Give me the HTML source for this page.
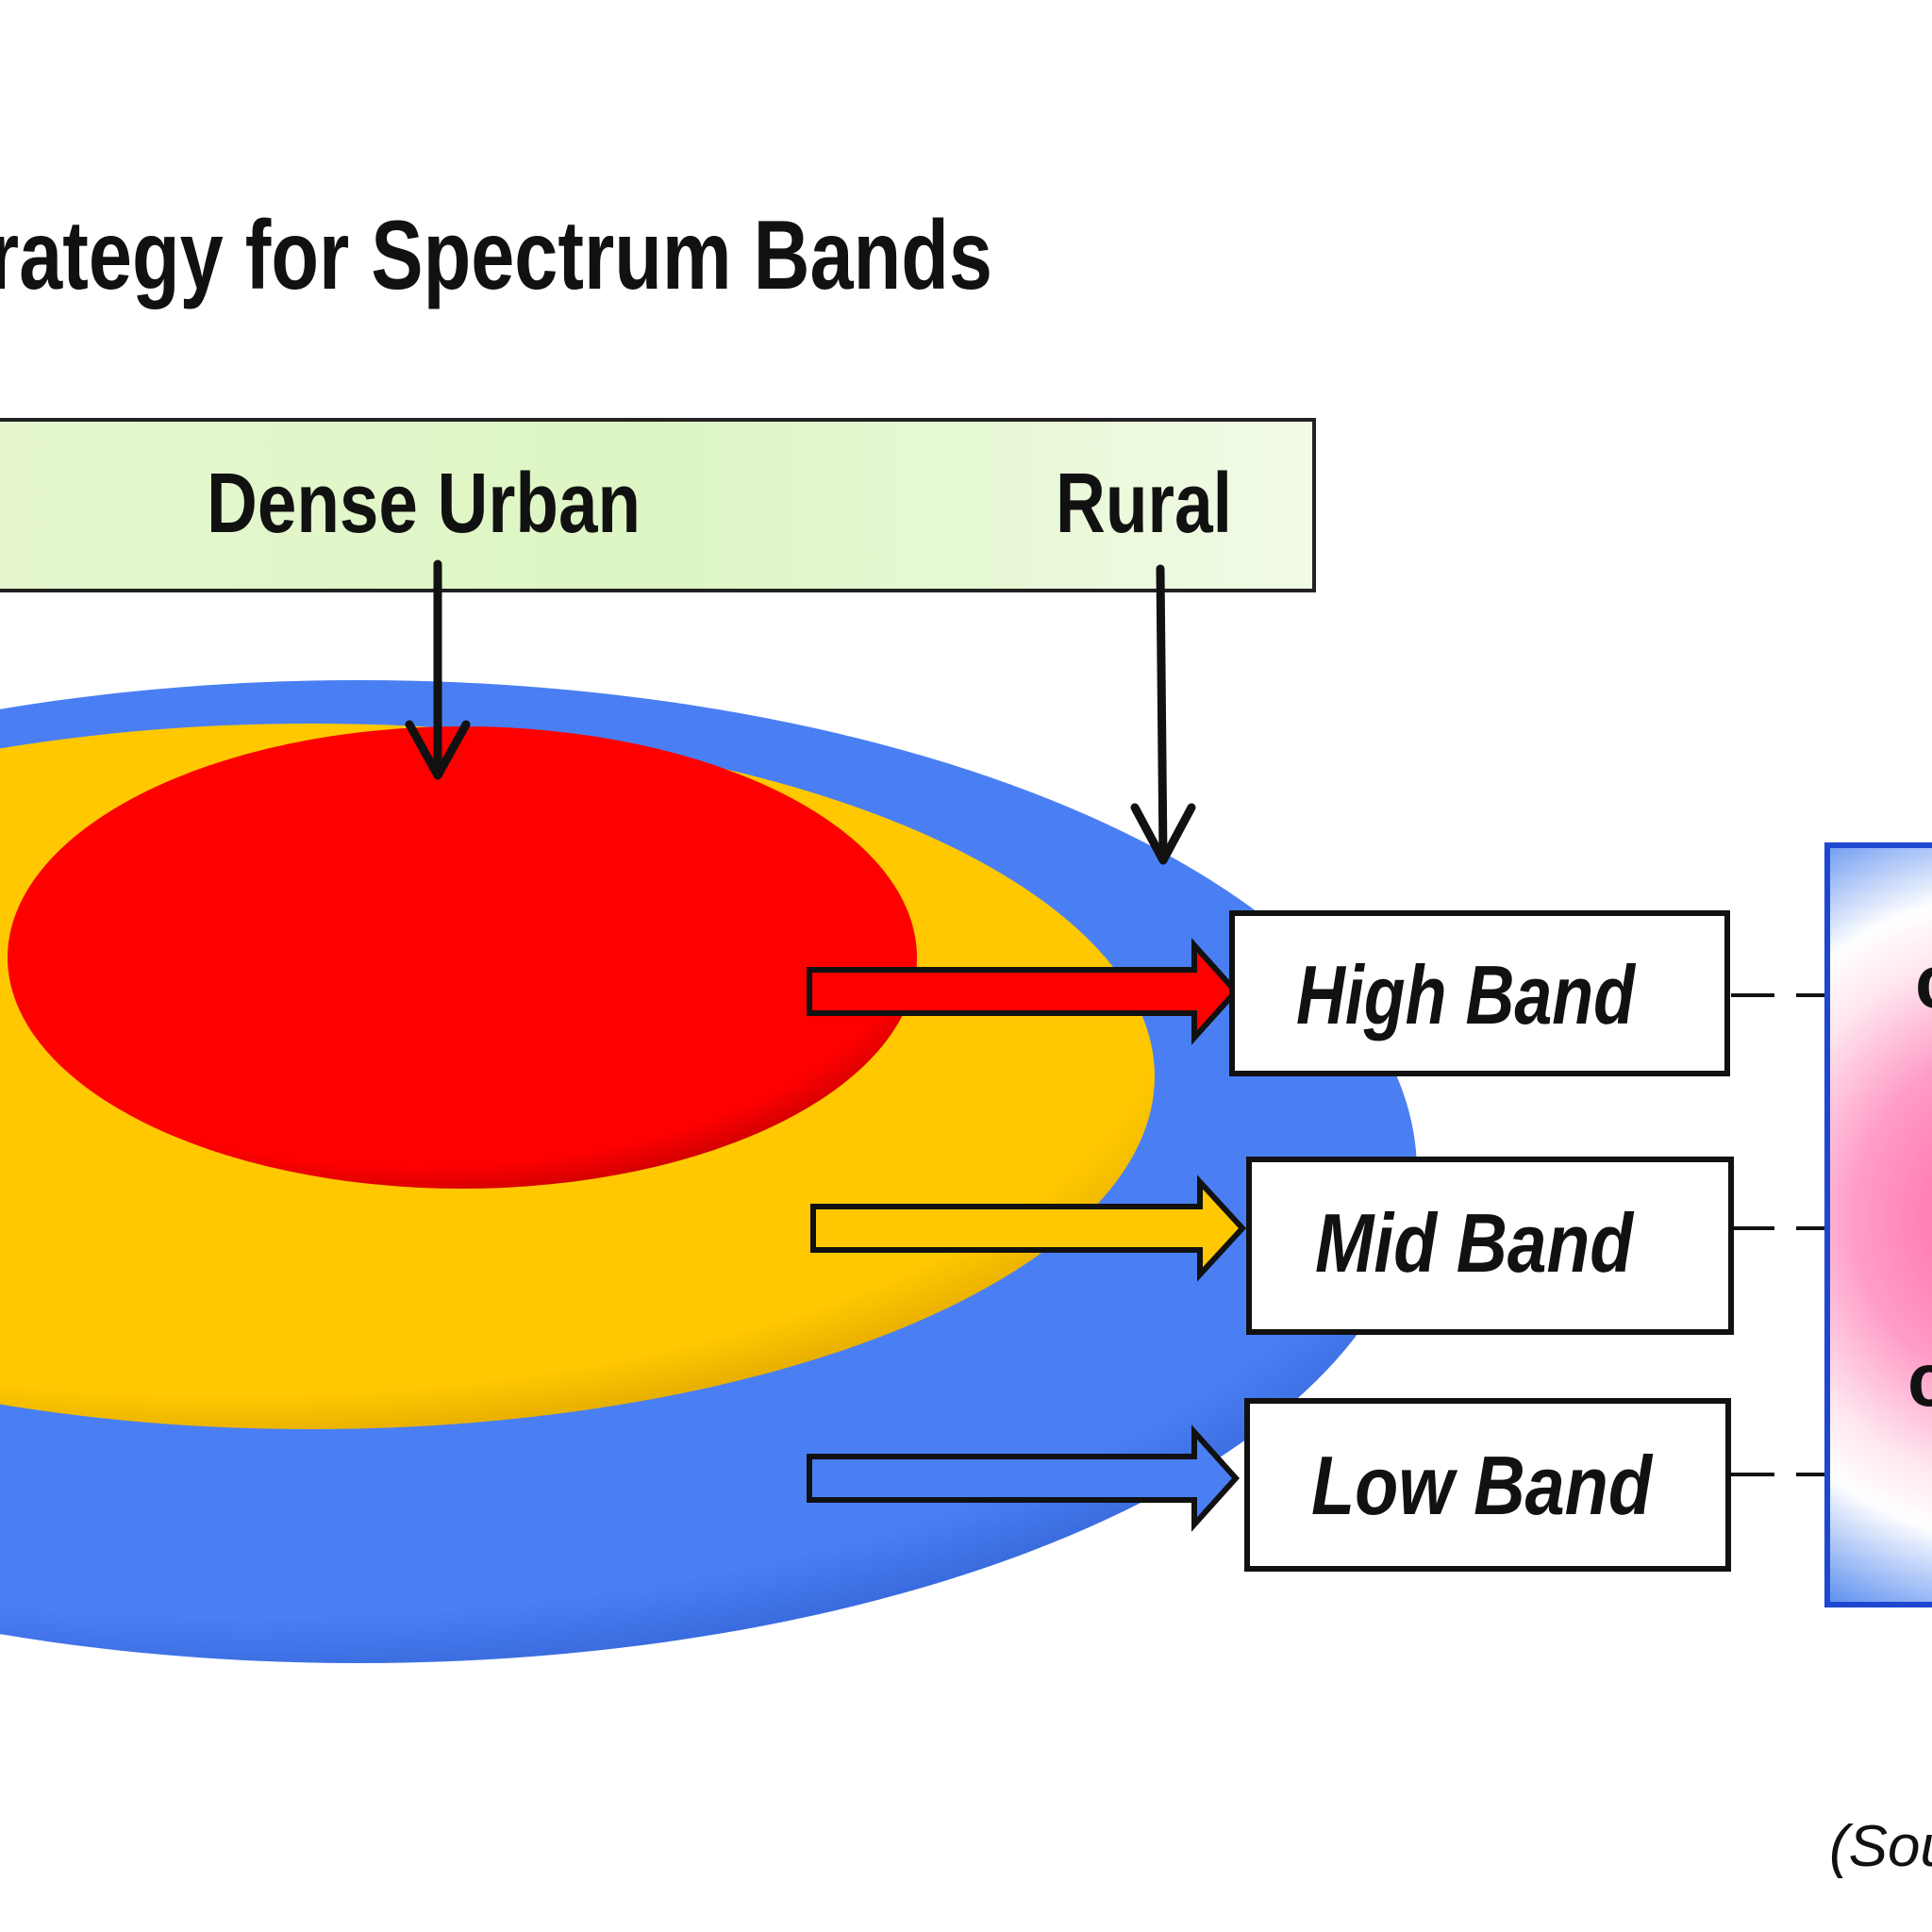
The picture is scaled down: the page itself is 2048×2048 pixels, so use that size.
<!DOCTYPE html>
<html><head><meta charset="utf-8"><style>
html,body{margin:0;padding:0;background:#fff;width:2048px;height:2048px;overflow:hidden}
svg{display:block}
</style></head><body>
<svg width="2048" height="2048" viewBox="0 0 2048 2048" xmlns="http://www.w3.org/2000/svg">
<defs>
<linearGradient id="gbox" x1="0" x2="1" y1="0" y2="0">
<stop offset="0" stop-color="#e6f7cf"/><stop offset="0.5" stop-color="#ddf6c4"/><stop offset="1" stop-color="#f1fae6"/></linearGradient>
<radialGradient id="blueG" cx="0.45" cy="0.4" r="0.65">
<stop offset="0.85" stop-color="#4a7ff4"/><stop offset="1" stop-color="#2f5fd0"/></radialGradient>
<radialGradient id="yelG" cx="0.45" cy="0.4" r="0.65">
<stop offset="0.85" stop-color="#ffc800"/><stop offset="1" stop-color="#d9a000"/></radialGradient>
<radialGradient id="redG" cx="0.45" cy="0.4" r="0.65">
<stop offset="0.85" stop-color="#fe0000"/><stop offset="1" stop-color="#b80000"/></radialGradient>
<radialGradient id="panel" gradientUnits="userSpaceOnUse" cx="2150" cy="1290" r="460">
<stop offset="0" stop-color="#ff5c9c"/><stop offset="0.4" stop-color="#ff9cc6"/><stop offset="0.62" stop-color="#ffe6f0"/><stop offset="0.75" stop-color="#ffffff"/><stop offset="1" stop-color="#5d8ff0"/></radialGradient>
</defs>
<text x="-95" y="306" font-family="Liberation Sans, sans-serif" font-weight="bold" font-size="104" fill="#111" textLength="1147" lengthAdjust="spacingAndGlyphs">Strategy for Spectrum Bands</text>
<rect x="-10" y="445" width="1403" height="181" fill="url(#gbox)" stroke="#222" stroke-width="4"/>
<text x="219" y="564" font-family="Liberation Sans, sans-serif" font-weight="bold" font-size="90" fill="#111" textLength="460" lengthAdjust="spacingAndGlyphs">Dense Urban</text>
<text x="1119" y="564" font-family="Liberation Sans, sans-serif" font-weight="bold" font-size="90" fill="#111" textLength="187" lengthAdjust="spacingAndGlyphs">Rural</text>
<ellipse cx="380" cy="1242" rx="1122" ry="521" fill="url(#blueG)"/>
<ellipse cx="330" cy="1141" rx="894" ry="374" fill="url(#yelG)"/>
<ellipse cx="490" cy="1015" rx="482" ry="245" fill="url(#redG)"/>
<g stroke="#111" stroke-width="9" fill="none" stroke-linecap="round" stroke-linejoin="round">
<line x1="464" y1="598" x2="464" y2="820"/>
<polyline points="434,768 464,822 494,768"/>
<line x1="1230" y1="603" x2="1233" y2="910"/>
<polyline points="1203,856 1233,912 1263,856"/>
</g>
<g stroke="#111" stroke-width="6" stroke-linejoin="miter">
<polygon points="858,1028 1266,1028 1266,1002 1310,1051 1266,1100 1266,1074 858,1074" fill="#fe0000"/>
<polygon points="862,1279 1272,1279 1272,1253 1317,1302 1272,1351 1272,1325 862,1325" fill="#ffc800"/>
<polygon points="858,1544 1266,1544 1266,1518 1310,1567 1266,1616 1266,1590 858,1590" fill="#4a7ff4"/>
</g>
<g fill="#fff" stroke="#111" stroke-width="6">
<rect x="1306" y="968" width="525" height="170"/>
<rect x="1324" y="1229" width="511" height="183"/>
<rect x="1322" y="1485" width="510" height="178"/>
</g>
<g font-family="Liberation Sans, sans-serif" font-weight="bold" font-style="italic" font-size="88" fill="#111">
<text x="1374" y="1085" textLength="359" lengthAdjust="spacingAndGlyphs">High Band</text>
<text x="1394" y="1348" textLength="337" lengthAdjust="spacingAndGlyphs">Mid Band</text>
<text x="1390" y="1605" textLength="361" lengthAdjust="spacingAndGlyphs">Low Band</text>
</g>
<g stroke="#111" stroke-width="4">
<line x1="1835" y1="1055" x2="1881" y2="1055"/><line x1="1904" y1="1055" x2="1946" y2="1055"/>
<line x1="1835" y1="1302" x2="1881" y2="1302"/><line x1="1904" y1="1302" x2="1946" y2="1302"/>
<line x1="1835" y1="1563" x2="1881" y2="1563"/><line x1="1904" y1="1563" x2="1946" y2="1563"/>
</g>
<rect x="1937" y="896" width="130" height="805" fill="url(#panel)" stroke="#1e47d0" stroke-width="6"/>
<text x="2030" y="1068" font-family="Liberation Sans, sans-serif" font-weight="bold" font-size="80" fill="#111">c</text>
<text x="2022" y="1490" font-family="Liberation Sans, sans-serif" font-weight="bold" font-size="80" fill="#111">c</text>
<text x="1939" y="1978" font-family="Liberation Sans, sans-serif" font-style="italic" font-size="62" fill="#111">(Source</text>
</svg>
</body></html>
